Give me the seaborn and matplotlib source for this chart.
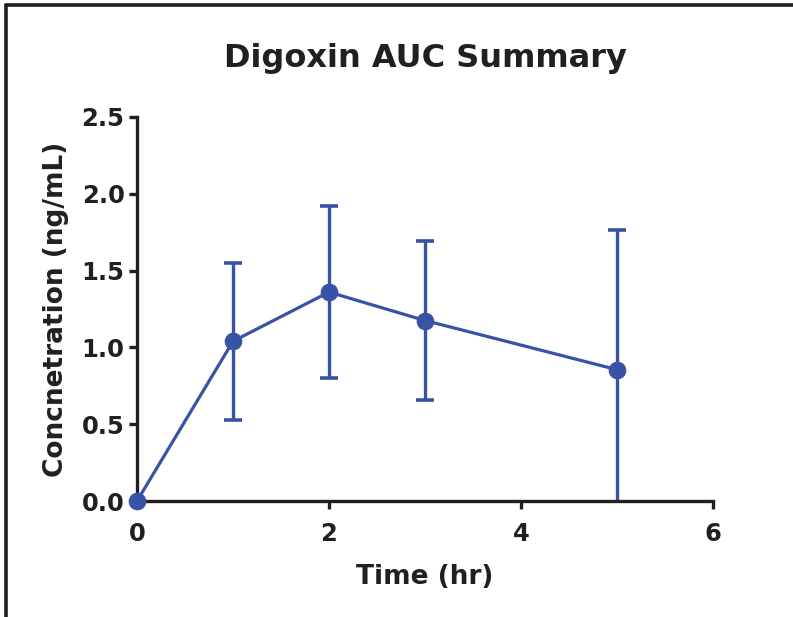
#!/usr/bin/env python3
"""Digoxin AUC summary: mean concentration over time with SD error bars."""

import matplotlib

matplotlib.use("Agg")
import matplotlib.pyplot as plt
import pandas as pd
import seaborn as sns
from matplotlib.lines import Line2D

TIME_HR = [0, 1, 2, 3, 5]
MEAN_CONC = [0.0, 1.04, 1.36, 1.175, 0.855]
SD_CONC = [0.0, 0.51, 0.56, 0.52, 0.91]
X_TICKS = [0, 2, 4, 6]
Y_TICKS = [0.0, 0.5, 1.0, 1.5, 2.0, 2.5]

BLUE = "#3953A4"
INK = "#231f20"

sns.set_style("ticks")
plt.rcParams["font.family"] = ["DejaVu Sans"]
plt.rcParams["font.weight"] = "bold"

data = pd.DataFrame({"time": TIME_HR, "conc": MEAN_CONC, "sd": SD_CONC})

fig = plt.figure(figsize=(7.93, 6.17), dpi=100)
ax = fig.add_axes([0.1728, 0.188, 0.899 - 0.1728, 0.8104 - 0.188])

# error bars first (point at t=0 has none), then the mean line with markers on top
ax.errorbar(data["time"][1:], data["conc"][1:], yerr=data["sd"][1:], fmt="none",
            ecolor=BLUE, elinewidth=2.4, capsize=6.2, capthick=2.6, zorder=2)
sns.lineplot(data=data, x="time", y="conc", ax=ax, color=BLUE, lw=2.3,
             marker="o", markersize=12, markeredgecolor=BLUE, clip_on=False, zorder=3)

ax.set_xlim(0, 6)
ax.set_ylim(0, 2.5)
ax.set_xticks(X_TICKS)
ax.set_yticks(Y_TICKS)
ax.set_yticklabels([f"{v:.1f}" for v in Y_TICKS])
ax.tick_params(axis="both", labelsize=17.5, width=2.4, length=6, color=INK,
               labelcolor=INK, pad=3)
ax.tick_params(axis="x", pad=9)
for side in ("left", "bottom"):
    ax.spines[side].set_linewidth(2.4)
    ax.spines[side].set_color(INK)
sns.despine(ax=ax)

ax.set_xlabel("Time (hr)", fontsize=19, fontweight="bold", color=INK, labelpad=13)
ax.set_ylabel("Concnetration (ng/mL)", fontsize=19, fontweight="bold", color=INK, labelpad=9)
ax.set_title("Digoxin AUC Summary", fontsize=23, fontweight="bold", color=INK, pad=36)

# partial frame around the figure (top and left edges only)
fig.add_artist(Line2D([6 / 793, 1.0], [1 - 5 / 617, 1 - 5 / 617], color=INK, lw=2.6))
fig.add_artist(Line2D([6 / 793, 6 / 793], [0.0, 1 - 5 / 617], color=INK, lw=2.6))

fig.savefig("out.png", dpi=100)
